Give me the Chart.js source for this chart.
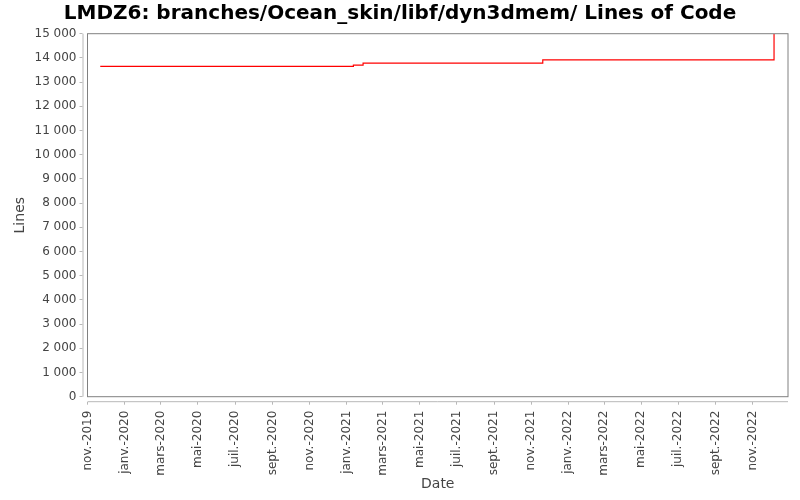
<!DOCTYPE html>
<html>
<head>
<meta charset="utf-8">
<script src="https://cdn.jsdelivr.net/npm/chart.js@4/dist/chart.umd.min.js"></script>
<style>
  body { margin: 0; background: #fff; }
  canvas { display: block; }
</style>
</head>
<body>
<canvas id="chart" width="800" height="500"></canvas>
<script>
// commit dates where the line count changed, and the count from then on
const changeDates = ['2019-11-22', '2021-01-12', '2021-01-28', '2021-11-20', '2022-12-06'];
const lineCounts = [13650, 13700, 13780, 13920, 15000];

// x axis ticks (every two months)
const tickDates = [
    '2019-11-01', '2020-01-01', '2020-03-01', '2020-05-01', '2020-07-01', '2020-09-01',
    '2020-11-01', '2021-01-01', '2021-03-01', '2021-05-01', '2021-07-01', '2021-09-01',
    '2021-11-01', '2022-01-01', '2022-03-01', '2022-05-01', '2022-07-01', '2022-09-01',
    '2022-11-01'
];
const tickLabels = [
    'nov.-2019', 'janv.-2020', 'mars-2020', 'mai-2020', 'juil.-2020', 'sept.-2020',
    'nov.-2020', 'janv.-2021', 'mars-2021', 'mai-2021', 'juil.-2021', 'sept.-2021',
    'nov.-2021', 'janv.-2022', 'mars-2022', 'mai-2022', 'juil.-2022', 'sept.-2022',
    'nov.-2022'
];
const xStart = '2019-11-01';
const xEnd = '2022-12-29';

const FONT = 'DejaVu Sans';
const tickTimes = tickDates.map(d => Date.parse(d));

// plot frame + axis lines sitting a few pixels off the plot, like the original
const framePlugin = {
    id: 'frame',
    afterDatasetsDraw: chart => {
        const { ctx, chartArea: a } = chart;
        ctx.save();
        ctx.lineWidth = 1;
        ctx.strokeStyle = '#808080';
        ctx.strokeRect(a.left, a.top, a.right - a.left, a.bottom - a.top);
        ctx.strokeStyle = '#b8b8b8';
        ctx.beginPath();
        ctx.moveTo(a.left - 4.5, a.top);
        ctx.lineTo(a.left - 4.5, a.bottom);
        ctx.moveTo(a.left, a.bottom + 5);
        ctx.lineTo(a.right, a.bottom + 5);
        ctx.stroke();
        ctx.restore();
    }
};

const context = document.getElementById('chart').getContext('2d');
new Chart(context, {
    type: 'line',
    plugins: [framePlugin],
    data: {
        datasets: [{
            label: 'Lines',
            data: changeDates.map((d, i) => ({ x: Date.parse(d), y: lineCounts[i] })),
            borderColor: '#ff0000',
            borderWidth: 1.2,
            pointRadius: 0,
            stepped: true,
            fill: false
        }]
    },
    options: {
        responsive: false,
        devicePixelRatio: 1,
        animation: false,
        layout: { padding: 0 },
        plugins: {
            legend: { display: false },
            tooltip: { enabled: false },
            title: {
                display: true,
                text: 'LMDZ6: branches/Ocean_skin/libf/dyn3dmem/ Lines of Code',
                color: '#000',
                font: { family: FONT, size: 20, weight: 'bold', lineHeight: 1.2 },
                padding: { top: 1.5, bottom: 8.2 }
            }
        },
        scales: {
            x: {
                type: 'linear',
                min: Date.parse(xStart),
                max: Date.parse(xEnd),
                afterBuildTicks: s => { s.ticks = tickTimes.map(v => ({ value: v })); },
                afterFit: s => { s.height = 103.3; },
                border: { display: false },
                grid: {
                    drawOnChartArea: false,
                    tickLength: 8,
                    tickColor: '#b8b8b8',
                    tickBorderDash: [0, 5, 3, 100]
                },
                ticks: {
                    autoSkip: false,
                    minRotation: 90,
                    maxRotation: 90,
                    padding: 6,
                    color: '#444',
                    font: { family: FONT, size: 12 },
                    callback: v => tickLabels[tickTimes.indexOf(v)] ?? ''
                },
                title: {
                    display: true,
                    text: 'Date',
                    color: '#444',
                    font: { family: FONT, size: 14 },
                    padding: { top: 0, bottom: 7.6 }
                }
            },
            y: {
                min: 0,
                max: 15000,
                afterFit: s => { s.width = 87.5; },
                border: { display: false },
                grid: {
                    drawOnChartArea: false,
                    tickLength: 8,
                    tickColor: '#b8b8b8',
                    tickBorderDash: [3, 100]
                },
                ticks: {
                    stepSize: 1000,
                    padding: 3,
                    color: '#444',
                    font: { family: FONT, size: 12 },
                    callback: v => String(v).replace(/\B(?=(\d{3})+(?!\d))/g, ' ')
                },
                title: {
                    display: true,
                    text: 'Lines',
                    color: '#444',
                    font: { family: FONT, size: 14 },
                    padding: { top: 11.6, bottom: 0 }
                }
            },
            // empty right-hand margin so the title stays centred on the page
            gap: {
                type: 'linear',
                position: 'right',
                afterFit: s => { s.width = 12; },
                border: { display: false },
                grid: { display: false },
                ticks: { display: false }
            }
        }
    }
});
</script>
</body>
</html>
